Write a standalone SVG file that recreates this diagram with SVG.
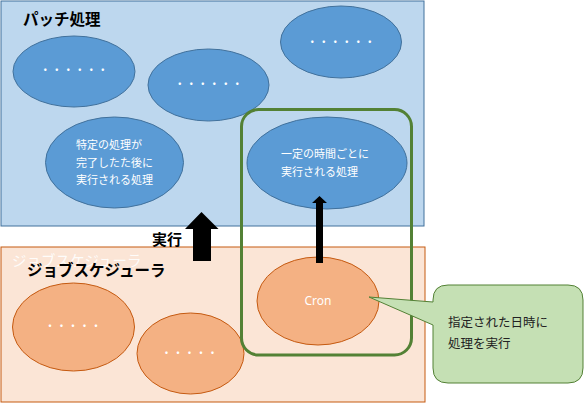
<svg xmlns="http://www.w3.org/2000/svg" width="584" height="403" viewBox="0 0 584 403">
<style>
  .jp { font-family: "Noto Sans CJK JP", "Noto Sans", sans-serif; }
  .title { font-size: 15.5px; font-weight: bold; fill: #000; }
  .wt { font-size: 11px; fill: #fff; }
  .dots { font-size: 11.5px; fill: #fff; text-anchor: middle; }
  .be { fill: #5b9bd5; stroke: #41719c; stroke-width: 1; }
  .oe { fill: #f4b183; stroke: #c55a11; stroke-width: 1; }
</style>
<rect width="584" height="403" fill="#fff"/>
<g id="batch">
  <rect x="1" y="1" width="423" height="225" fill="#bdd7ee" stroke="#41719c" stroke-width="1"/>
  <text class="jp title" x="23" y="25">パッチ処理</text>
</g>
<g id="batch-e1"><ellipse class="be" cx="74" cy="71.5" rx="61" ry="35.5"/><text class="jp dots" x="74" y="74">・・・・・・</text></g>
<g id="batch-e2"><ellipse class="be" cx="208.5" cy="85" rx="60.5" ry="36"/><text class="jp dots" x="208.5" y="88">・・・・・・</text></g>
<g id="batch-e3"><ellipse class="be" cx="341" cy="42" rx="60.5" ry="36"/><text class="jp dots" x="341" y="45.5">・・・・・・</text></g>
<g id="batch-e4"><ellipse class="be" cx="114.5" cy="162.5" rx="69" ry="45.5"/>
  <text class="jp wt" x="76" y="149">特定の処理が</text>
  <text class="jp wt" x="76" y="167">完了したた後に</text>
  <text class="jp wt" x="76" y="184">実行される処理</text>
</g>
<g id="batch-e5"><ellipse class="be" cx="327" cy="163" rx="80" ry="46"/>
  <text class="jp wt" x="281" y="158">一定の時間ごとに</text>
  <text class="jp wt" x="281" y="176">実行される処理</text>
</g>
<g id="scheduler">
  <rect x="1" y="247" width="424" height="155" fill="#fbe5d6" stroke="#c55a11" stroke-width="1"/>
  <text class="jp" x="12" y="266" font-size="14.5" fill="#fff" opacity="0.9">ジョブスケジューラ</text>
  <text class="jp title" x="27" y="276">ジョブスケジューラ</text>
</g>
<g id="sched-e1"><ellipse class="oe" cx="73.5" cy="327" rx="61" ry="44"/><text class="jp dots" x="73" y="330">・・・・・</text></g>
<g id="sched-e2"><ellipse class="oe" cx="190.5" cy="353.5" rx="53.5" ry="40.5"/><text class="jp dots" x="189.5" y="357">・・・・・</text></g>
<g id="cron"><ellipse class="oe" cx="318" cy="301" rx="61" ry="44"/>
  <text x="318" y="304.5" font-family="Noto Sans, sans-serif" font-size="12" fill="#fff" text-anchor="middle">Cron</text>
</g>
<g id="cron-group">
  <rect x="241.5" y="109.5" width="170" height="245.5" rx="17" ry="17" fill="none" stroke="#538135" stroke-width="3"/>
</g>
<g id="connectors">
  <polygon points="201.5,212 218.5,229 211,229 211,261 193,261 193,229 185,229" fill="#000"/>
  <text class="jp" x="152" y="244.5" font-size="15" font-weight="bold" fill="#000">実行</text>
  <polygon points="319.5,196 327,203 323,203 323,263 316,263 316,203 312,203" fill="#000"/>
</g>
<g id="callout">
  <path d="M 448 285 H 568 Q 583 285 583 300 V 368 Q 583 383 568 383 H 448 Q 433 383 433 368 V 325 L 369 297 L 433 302 V 300 Q 433 285 448 285 Z" fill="#c5e0b4" stroke="#538135" stroke-width="1"/>
  <text class="jp" x="448" y="327" font-size="12.5" fill="#222">指定された日時に</text>
  <text class="jp" x="448" y="348" font-size="12.5" fill="#222">処理を実行</text>
</g>
</svg>
